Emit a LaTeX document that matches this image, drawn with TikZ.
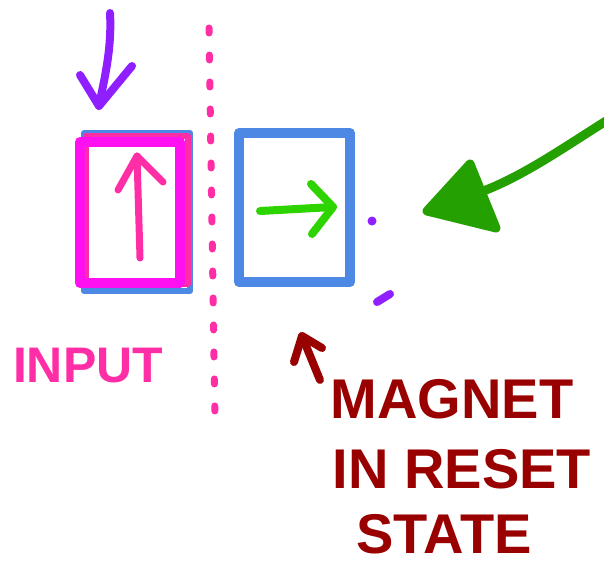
\documentclass[tikz,border=0pt]{standalone}
\usepackage{fontspec}
\setmainfont{Liberation Sans}
\definecolor{cpurple}{HTML}{8F1FFF}
\definecolor{cmagenta}{HTML}{FF10F0}
\definecolor{cpink}{HTML}{FF2EA6}
\definecolor{cblue}{HTML}{4D88E5}
\definecolor{clgreen}{HTML}{2DD400}
\definecolor{cdgreen}{HTML}{24A000}
\definecolor{cdred}{HTML}{990000}
\tikzset{
  pen/.style={line cap=round,line join=round},
  lbl/.style={inner sep=0pt,font=\bfseries\fontsize{56}{58}\selectfont}
}
\begin{document}
\begin{tikzpicture}[x=1pt,y=-1pt]
\useasboundingbox (0,0) rectangle (604,566);
% purple arrow
\coordinate (pa1) at (110,13);
\coordinate (pa2) at (99,106);
\draw[pen,cpurple,line width=8] (pa1) .. controls (112,50) and (104,80) .. (pa2);
\draw[pen,cpurple,line width=8] (80,75) -- (pa2) -- (132,66);
% input boxes
\draw[pen,cblue,line width=6] (84,133) rectangle (190,291);
\draw[pen,cpink,line width=6] (86,136) rectangle (188,284);
\draw[pen,cmagenta,line width=10] (80,142) rectangle (180,283);
% pink arrow inside
\coordinate (ka1) at (140,258);
\coordinate (ka2) at (137,156);
\draw[pen,cpink,line width=7] (ka1) -- (ka2);
\draw[pen,cpink,line width=7] (118,190) -- (ka2) -- (163,182);
% dotted separator
\coordinate (d1) at (209,28);
\coordinate (d2) at (215,422);
\draw[pen,cpink,line width=7,dash pattern=on 5pt off 22pt] (d1) -- (d2);
% magnet box
\draw[pen,cblue,line width=10] (239,133) rectangle (350,282);
% green arrow inside
\coordinate (ga1) at (260,211);
\coordinate (ga2) at (333,207);
\draw[pen,clgreen,line width=8] (ga1) -- (ga2);
\draw[pen,clgreen,line width=8] (311,184) -- (ga2) -- (312,234);
% purple dots
\fill[cpurple] (372,221) circle (4.5);
\coordinate (pd1) at (377,302);
\coordinate (pd2) at (390,294);
\draw[pen,cpurple,line width=8] (pd1) -- (pd2);
% big green arrow
\coordinate (bg1) at (606,121);
\coordinate (bg2) at (478,193);
\draw[pen,cdgreen,line width=9] (bg1) .. controls (560,150) and (520,178) .. (bg2);
\filldraw[pen,cdgreen,line width=9] (470,164) -- (427,211) -- (496,228) -- cycle;
% labels
\node[lbl,text=cpink,font=\bfseries\fontsize{50}{52}\selectfont] (input) at (88,366) {INPUT};
\coordinate (ra1) at (320,380);
\coordinate (ra2) at (302,336);
\draw[pen,cdred,line width=8] (ra1) -- (ra2);
\draw[pen,cdred,line width=8] (294,362) -- (ra2) -- (322,348);
\node[lbl,text=cdred] (magnet) at (452,399) {MAGNET};
\node[lbl,text=cdred] (inreset) at (462,469) {IN RESET};
\node[lbl,text=cdred] (state) at (444,534) {STATE};
\end{tikzpicture}
\end{document}
